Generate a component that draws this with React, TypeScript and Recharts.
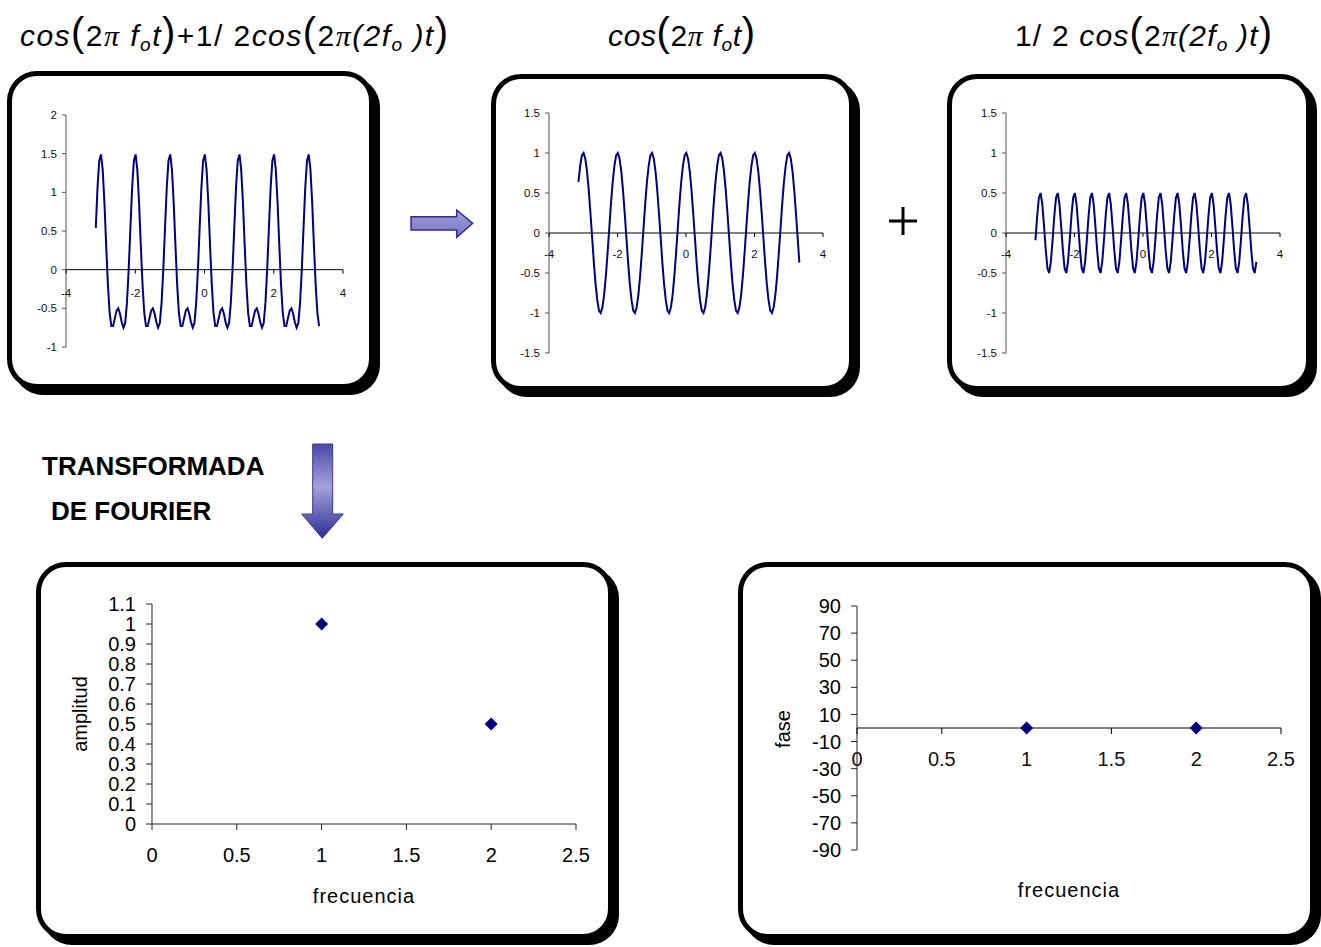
import React from 'react';
import { LineChart, Line, ScatterChart, Scatter, XAxis, YAxis, ReferenceLine, ReferenceDot } from 'recharts';

const FONT = "'Liberation Sans', Arial, Helvetica, sans-serif";
const SERIF = "'Liberation Serif', 'Times New Roman', serif";
const NAVY = '#000080';

// instantes de muestreo (t)
const tiempo = [
  -3.14, -3.09, -3.04, -2.99, -2.94, -2.89, -2.84, -2.79, -2.74, -2.69, -2.64, -2.59, -2.54, -2.49, -2.44, -2.39, -2.34, -2.29, -2.24, -2.19,
  -2.14, -2.09, -2.04, -1.99, -1.94, -1.89, -1.84, -1.79, -1.74, -1.69, -1.64, -1.59, -1.54, -1.49, -1.44, -1.39, -1.34, -1.29, -1.24, -1.19,
  -1.14, -1.09, -1.04, -0.99, -0.94, -0.89, -0.84, -0.79, -0.74, -0.69, -0.64, -0.59, -0.54, -0.49, -0.44, -0.39, -0.34, -0.29, -0.24, -0.19,
  -0.14, -0.09, -0.04, 0.01, 0.06, 0.11, 0.16, 0.21, 0.26, 0.31, 0.36, 0.41, 0.46, 0.51, 0.56, 0.61, 0.66, 0.71, 0.76, 0.81,
  0.86, 0.91, 0.96, 1.01, 1.06, 1.11, 1.16, 1.21, 1.26, 1.31, 1.36, 1.41, 1.46, 1.51, 1.56, 1.61, 1.66, 1.71, 1.76, 1.81,
  1.86, 1.91, 1.96, 2.01, 2.06, 2.11, 2.16, 2.21, 2.26, 2.31, 2.36, 2.41, 2.46, 2.51, 2.56, 2.61, 2.66, 2.71, 2.76, 2.81,
  2.86, 2.91, 2.96, 3.01, 3.06, 3.11, 3.16, 3.21, 3.26, 3.31,
];

// cos(2π fo t) + 1/2 cos(2π(2fo)t)
const senalSuma = [
  0.54, 1.06, 1.41, 1.49, 1.29, 0.87, 0.32, -0.19, -0.56, -0.73, -0.73, -0.63, -0.53, -0.5, -0.57, -0.68, -0.75, -0.69, -0.43, 0.0,
  0.54, 1.06, 1.41, 1.49, 1.29, 0.87, 0.32, -0.19, -0.56, -0.73, -0.73, -0.63, -0.53, -0.5, -0.57, -0.68, -0.75, -0.69, -0.43, 0.0,
  0.54, 1.06, 1.41, 1.49, 1.29, 0.87, 0.32, -0.19, -0.56, -0.73, -0.73, -0.63, -0.53, -0.5, -0.57, -0.68, -0.75, -0.69, -0.43, 0.0,
  0.54, 1.06, 1.41, 1.49, 1.29, 0.87, 0.32, -0.19, -0.56, -0.73, -0.73, -0.63, -0.53, -0.5, -0.57, -0.68, -0.75, -0.69, -0.43, 0.0,
  0.54, 1.06, 1.41, 1.49, 1.29, 0.87, 0.32, -0.19, -0.56, -0.73, -0.73, -0.63, -0.53, -0.5, -0.57, -0.68, -0.75, -0.69, -0.43, 0.0,
  0.54, 1.06, 1.41, 1.49, 1.29, 0.87, 0.32, -0.19, -0.56, -0.73, -0.73, -0.63, -0.53, -0.5, -0.57, -0.68, -0.75, -0.69, -0.43, 0.0,
  0.54, 1.06, 1.41, 1.49, 1.29, 0.87, 0.32, -0.19, -0.56, -0.73,
];

// cos(2π fo t)
const senalBase = [
  0.64, 0.84, 0.97, 1.0, 0.93, 0.77, 0.54, 0.25, -0.06, -0.37, -0.64, -0.84, -0.97, -1.0, -0.93, -0.77, -0.54, -0.25, 0.06, 0.37,
  0.64, 0.84, 0.97, 1.0, 0.93, 0.77, 0.54, 0.25, -0.06, -0.37, -0.64, -0.84, -0.97, -1.0, -0.93, -0.77, -0.54, -0.25, 0.06, 0.37,
  0.64, 0.84, 0.97, 1.0, 0.93, 0.77, 0.54, 0.25, -0.06, -0.37, -0.64, -0.84, -0.97, -1.0, -0.93, -0.77, -0.54, -0.25, 0.06, 0.37,
  0.64, 0.84, 0.97, 1.0, 0.93, 0.77, 0.54, 0.25, -0.06, -0.37, -0.64, -0.84, -0.97, -1.0, -0.93, -0.77, -0.54, -0.25, 0.06, 0.37,
  0.64, 0.84, 0.97, 1.0, 0.93, 0.77, 0.54, 0.25, -0.06, -0.37, -0.64, -0.84, -0.97, -1.0, -0.93, -0.77, -0.54, -0.25, 0.06, 0.37,
  0.64, 0.84, 0.97, 1.0, 0.93, 0.77, 0.54, 0.25, -0.06, -0.37, -0.64, -0.84, -0.97, -1.0, -0.93, -0.77, -0.54, -0.25, 0.06, 0.37,
  0.64, 0.84, 0.97, 1.0, 0.93, 0.77, 0.54, 0.25, -0.06, -0.37,
];

// 1/2 cos(2π(2fo)t)
const senalArmonico = [
  -0.09, 0.21, 0.44, 0.5, 0.36, 0.09, -0.21, -0.44, -0.5, -0.36, -0.09, 0.21, 0.44, 0.5, 0.36, 0.09, -0.21, -0.44, -0.5, -0.36,
  -0.09, 0.21, 0.44, 0.5, 0.36, 0.09, -0.21, -0.44, -0.5, -0.36, -0.09, 0.21, 0.44, 0.5, 0.36, 0.09, -0.21, -0.44, -0.5, -0.36,
  -0.09, 0.21, 0.44, 0.5, 0.36, 0.09, -0.21, -0.44, -0.5, -0.36, -0.09, 0.21, 0.44, 0.5, 0.36, 0.09, -0.21, -0.44, -0.5, -0.36,
  -0.09, 0.21, 0.44, 0.5, 0.36, 0.09, -0.21, -0.44, -0.5, -0.36, -0.09, 0.21, 0.44, 0.5, 0.36, 0.09, -0.21, -0.44, -0.5, -0.36,
  -0.09, 0.21, 0.44, 0.5, 0.36, 0.09, -0.21, -0.44, -0.5, -0.36, -0.09, 0.21, 0.44, 0.5, 0.36, 0.09, -0.21, -0.44, -0.5, -0.36,
  -0.09, 0.21, 0.44, 0.5, 0.36, 0.09, -0.21, -0.44, -0.5, -0.36, -0.09, 0.21, 0.44, 0.5, 0.36, 0.09, -0.21, -0.44, -0.5, -0.36,
  -0.09, 0.21, 0.44, 0.5, 0.36, 0.09, -0.21, -0.44, -0.5, -0.36,
];

// espectro
const frecuencias = [1, 2];
const amplitudes = [1, 0.5];
const fases = [0, 0];

const ticksTiempo = [-4, -2, 0, 2, 4];
const ticksSuma = [-1, -0.5, 0, 0.5, 1, 1.5, 2];
const ticksCos = [-1.5, -1, -0.5, 0, 0.5, 1, 1.5];
const ticksFrecuencia = [0, 0.5, 1, 1.5, 2, 2.5];
const ticksAmplitud = [0, 0.1, 0.2, 0.3, 0.4, 0.5, 0.6, 0.7, 0.8, 0.9, 1, 1.1];
const ticksFase = [-90, -70, -50, -30, -10, 10, 30, 50, 70, 90];

const Caja = ({ left, top, width, height }: any) => (
  <div
    style={{
      position: 'absolute', left, top, width, height, boxSizing: 'border-box',
      border: '5px solid #000', borderRadius: 30, boxShadow: '6px 6px 0 #000', background: '#fff',
    }}
  />
);

// marca + etiqueta del eje x cuando el eje cruza en y = 0
const MarcaEje = ({ cx, cy, label, size, gap, len }: any) => (
  <g>
    <line x1={cx} y1={cy} x2={cx} y2={cy + len} stroke="#000" strokeWidth={1} />
    <text x={cx} y={cy + gap} textAnchor="middle" fontSize={size} fontFamily={FONT} fill="#111">{label}</text>
  </g>
);

const Rombo = (props: any) => {
  const { cx, cy } = props;
  const s = 6.5;
  return <polygon points={`${cx},${cy - s} ${cx + s},${cy} ${cx},${cy + s} ${cx - s},${cy}`} fill={NAVY} />;
};

const GraficaOnda = ({ valores, x, y, w, h, dominio, ticks, gap }: any) => {
  const data = tiempo.map((t, i) => ({ t, v: valores[i] }));
  return (
    <div style={{ position: 'absolute', left: x - 50, top: y - 10 }}>
      <LineChart width={w + 60} height={h + 20} data={data} margin={{ top: 10, right: 10, bottom: 10, left: 10 }}>
        <XAxis hide type="number" dataKey="t" domain={[-4, 4]} />
        <YAxis
          type="number"
          domain={dominio}
          ticks={ticks}
          interval={0}
          width={40}
          tickSize={4}
          tickMargin={5}
          axisLine={{ stroke: '#555' }}
          tickLine={{ stroke: '#555' }}
          tick={{ fontSize: 11.5, fill: '#111', fontFamily: FONT }}
        />
        <ReferenceLine y={0} stroke="#000" strokeWidth={1} />
        {ticksTiempo.map((t) => (
          <ReferenceDot
            key={t}
            x={t}
            y={0}
            r={0}
            ifOverflow="visible"
            shape={(p: any) => <MarcaEje cx={p.cx} cy={p.cy} label={t} size={11.5} gap={gap} len={4} />}
          />
        ))}
        <Line type="linear" dataKey="v" stroke={NAVY} strokeWidth={2} dot={false} isAnimationActive={false} />
      </LineChart>
    </div>
  );
};

const tickGrande = { fontSize: 20, fill: '#000', fontFamily: FONT };

const Parentesis = ({ c }: any) => (
  <tspan fontSize={40} fontStyle="normal">{c}</tspan>
);

export default function App() {
  const datosAmplitud = frecuencias.map((f, i) => ({ f, a: amplitudes[i] }));
  const datosFase = frecuencias.map((f, i) => ({ f, p: fases[i] }));

  return (
    <div style={{ position: 'absolute', left: 0, top: 0, width: 1321, height: 947, background: '#fff', overflow: 'hidden', fontFamily: FONT }}>
      <Caja left={7} top={71} width={367} height={318} />
      <Caja left={491} top={74} width={363} height={317} />
      <Caja left={947} top={74} width={364} height={317} />
      <Caja left={36} top={562} width={577} height={377} />
      <Caja left={738} top={562} width={577} height={377} />

      <GraficaOnda valores={senalSuma} x={66} y={115} w={277} h={232} dominio={[-1, 2]} ticks={ticksSuma} gap={27} />
      <GraficaOnda valores={senalBase} x={549} y={113} w={274} h={240} dominio={[-1.5, 1.5]} ticks={ticksCos} gap={24.5} />
      <GraficaOnda valores={senalArmonico} x={1006} y={113} w={274} h={240} dominio={[-1.5, 1.5]} ticks={ticksCos} gap={24.5} />

      {/* amplitud */}
      <div style={{ position: 'absolute', left: 82, top: 594 }}>
        <ScatterChart width={514} height={285} margin={{ top: 10, right: 20, bottom: 5, left: 10 }}>
          <XAxis
            type="number"
            dataKey="f"
            domain={[0, 2.5]}
            ticks={ticksFrecuencia}
            interval={0}
            height={50}
            tickSize={6}
            tickMargin={18}
            axisLine={{ stroke: '#222' }}
            tickLine={{ stroke: '#222' }}
            tick={tickGrande}
          />
          <YAxis
            type="number"
            dataKey="a"
            domain={[0, 1.1]}
            ticks={ticksAmplitud}
            interval={0}
            width={60}
            tickSize={6}
            tickMargin={10}
            axisLine={{ stroke: '#222' }}
            tickLine={{ stroke: '#222' }}
            tick={tickGrande}
          />
          <Scatter data={datosAmplitud} fill={NAVY} shape={Rombo} isAnimationActive={false} />
        </ScatterChart>
      </div>

      {/* fase */}
      <div style={{ position: 'absolute', left: 787, top: 596 }}>
        <ScatterChart width={514} height={264} margin={{ top: 10, right: 20, bottom: 10, left: 10 }}>
          <XAxis hide type="number" dataKey="f" domain={[0, 2.5]} />
          <YAxis
            type="number"
            dataKey="p"
            domain={[-90, 90]}
            ticks={ticksFase}
            interval={0}
            width={60}
            tickSize={6}
            tickMargin={10}
            axisLine={{ stroke: '#222' }}
            tickLine={{ stroke: '#222' }}
            tick={tickGrande}
          />
          <ReferenceLine y={0} stroke="#000" strokeWidth={1} />
          {ticksFrecuencia.map((f) => (
            <ReferenceDot
              key={f}
              x={f}
              y={0}
              r={0}
              ifOverflow="visible"
              shape={(p: any) => <MarcaEje cx={p.cx} cy={p.cy} label={f} size={20} gap={38} len={6} />}
            />
          ))}
          <Scatter data={datosFase} fill={NAVY} shape={Rombo} isAnimationActive={false} />
        </ScatterChart>
      </div>

      <svg width={1321} height={947} style={{ position: 'absolute', left: 0, top: 0, pointerEvents: 'none' }}>
        <defs>
          <linearGradient id="flechaAbajo" x1="0" y1="0" x2="0" y2="1">
            <stop offset="0" stopColor="#4848a8" />
            <stop offset="0.45" stopColor="#a2a2d8" />
            <stop offset="1" stopColor="#2e2e98" />
          </linearGradient>
          <linearGradient id="flechaDer" x1="0" y1="0" x2="0" y2="1">
            <stop offset="0" stopColor="#a0a0da" />
            <stop offset="1" stopColor="#7676c2" />
          </linearGradient>
        </defs>

        {/* títulos */}
        <text x={20} y={46} fontFamily={FONT} fontSize={30} fill="#000" textLength={428} lengthAdjust="spacing">
          <tspan fontStyle="italic">cos</tspan>
          <Parentesis c="(" />
          <tspan>2</tspan>
          <tspan fontFamily={SERIF} fontStyle="italic">π</tspan>
          <tspan fontStyle="italic"> f</tspan>
          <tspan fontStyle="italic" fontSize={19} dy={5}>o</tspan>
          <tspan fontStyle="italic" dy={-5}>t</tspan>
          <Parentesis c=")" />
          <tspan>+1/ 2</tspan>
          <tspan fontStyle="italic">cos</tspan>
          <Parentesis c="(" />
          <tspan>2</tspan>
          <tspan fontFamily={SERIF} fontStyle="italic">π</tspan>
          <tspan fontStyle="italic">(2f</tspan>
          <tspan fontStyle="italic" fontSize={19} dy={5}>o</tspan>
          <tspan fontStyle="italic" dy={-5}> )t</tspan>
          <Parentesis c=")" />
        </text>

        <text x={608} y={46} fontFamily={FONT} fontSize={30} fill="#000" textLength={147} lengthAdjust="spacing">
          <tspan fontStyle="italic">cos</tspan>
          <Parentesis c="(" />
          <tspan>2</tspan>
          <tspan fontFamily={SERIF} fontStyle="italic">π</tspan>
          <tspan fontStyle="italic"> f</tspan>
          <tspan fontStyle="italic" fontSize={19} dy={5}>o</tspan>
          <tspan fontStyle="italic" dy={-5}>t</tspan>
          <Parentesis c=")" />
        </text>

        <text x={1015} y={46} fontFamily={FONT} fontSize={30} fill="#000" textLength={257} lengthAdjust="spacing">
          <tspan>1/ 2 </tspan>
          <tspan fontStyle="italic">cos</tspan>
          <Parentesis c="(" />
          <tspan>2</tspan>
          <tspan fontFamily={SERIF} fontStyle="italic">π</tspan>
          <tspan fontStyle="italic">(2f</tspan>
          <tspan fontStyle="italic" fontSize={19} dy={5}>o</tspan>
          <tspan fontStyle="italic" dy={-5}> )t</tspan>
          <Parentesis c=")" />
        </text>

        {/* flecha derecha y signo + */}
        <polygon
          points="411,216.7 456.7,216.7 456.7,210 472.7,223.3 456.7,237.3 456.7,230 411,230"
          fill="url(#flechaDer)"
          stroke="#2e2e96"
          strokeWidth={1.5}
        />
        <line x1={889} y1={221} x2={917} y2={221} stroke="#000" strokeWidth={3} />
        <line x1={903} y1={207} x2={903} y2={235} stroke="#000" strokeWidth={3} />

        {/* transformada */}
        <text x={42} y={475} fontFamily={FONT} fontSize={26} fontWeight="bold" fill="#000">TRANSFORMADA</text>
        <text x={51} y={520} fontFamily={FONT} fontSize={26} fontWeight="bold" fill="#000">DE FOURIER</text>
        <polygon
          points="312.7,444 332.7,444 332.7,514 343.3,514 322.3,538.3 301.7,514 312.7,514"
          fill="url(#flechaAbajo)"
          stroke="#3a3a9a"
          strokeWidth={1}
        />

        {/* rótulos de ejes */}
        <text transform="translate(87,714) rotate(-90)" textAnchor="middle" fontFamily={FONT} fontSize={20} fill="#000">amplitud</text>
        <text x={364} y={903} textAnchor="middle" fontFamily={FONT} fontSize={20} letterSpacing={1} fill="#000">frecuencia</text>
        <text transform="translate(790,729) rotate(-90)" textAnchor="middle" fontFamily={FONT} fontSize={20} fill="#000">fase</text>
        <text x={1069} y={897} textAnchor="middle" fontFamily={FONT} fontSize={20} letterSpacing={1} fill="#000">frecuencia</text>
      </svg>
    </div>
  );
}
